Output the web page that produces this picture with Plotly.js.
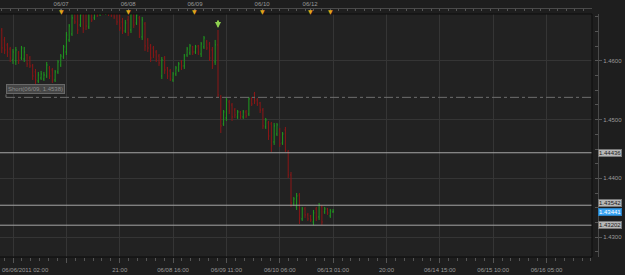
<!DOCTYPE html>
<html><head><meta charset="utf-8">
<script src="https://cdn.plot.ly/plotly-3.0.1.min.js"></script>
<style>html,body{margin:0;padding:0;background:#1e1e1e;overflow:hidden}#chart{width:625px;height:275px}</style>
</head><body><div id="chart"></div>
<script>
const open = [
1.46528,1.46358,1.46273,1.46204,1.46017,1.46000,1.46136,1.46051,1.46034,1.46102,
1.46051,1.45915,1.45813,1.45659,1.45710,1.45693,1.45744,1.45881,1.45847,1.45676,
1.45813,1.45932,1.46068,1.46153,1.46358,1.46460,1.46835,1.46801,1.46613,1.46835,
1.46869,1.46579,1.46869,1.46733,1.46954,1.46801,1.46988,1.46818,1.46954,1.46903,
1.46903,1.46869,1.46801,1.46664,1.46511,1.46699,1.46528,1.46801,1.46647,1.46733,
1.46409,1.46630,1.46358,1.46256,1.46221,1.46153,1.46085,1.45744,1.46051,1.45881,
1.45830,1.45676,1.45779,1.45847,1.45983,1.45915,1.46102,1.46136,1.46239,1.46153,
1.46256,1.46119,1.46239,1.46324,1.46290,1.46187,1.45983,1.46273,1.45387,1.44927,
1.45029,1.45302,1.45250,1.45165,1.45046,1.45131,1.45046,1.45131,1.45097,1.45353,
1.45438,1.45336,1.45284,1.45165,1.44876,1.44944,1.44927,1.44620,1.44756,1.44825,
1.44603,1.44825,1.44450,1.44058,1.43564,1.43513,1.43717,1.43309,1.43479,1.43377,
1.43360,1.43257,1.43479,1.43343,1.43513,1.43428,1.43479,1.43360,1.43428];
const high = [
1.46562,1.46409,1.46307,1.46239,1.46204,1.46239,1.46170,1.46256,1.46239,1.46119,
1.46085,1.45949,1.45864,1.45813,1.45830,1.45813,1.45983,1.45915,1.45881,1.45847,
1.46017,1.46119,1.46273,1.46494,1.46630,1.46835,1.46903,1.46869,1.46835,1.46903,
1.46937,1.46903,1.46937,1.46971,1.47005,1.47039,1.47039,1.47039,1.47005,1.46971,
1.46954,1.46903,1.46869,1.46733,1.46699,1.46767,1.46869,1.46869,1.46835,1.46767,
1.46750,1.46664,1.46392,1.46290,1.46256,1.46187,1.46119,1.46068,1.46085,1.45898,
1.45864,1.45813,1.45915,1.45983,1.46017,1.46119,1.46239,1.46290,1.46256,1.46273,
1.46273,1.46324,1.46426,1.46358,1.46324,1.46239,1.46358,1.46528,1.45421,1.45165,
1.45370,1.45336,1.45284,1.45199,1.45165,1.45148,1.45165,1.45165,1.45387,1.45387,
1.45472,1.45370,1.45302,1.45199,1.45029,1.44978,1.44961,1.44944,1.44944,1.44859,
1.44790,1.44876,1.44484,1.44109,1.43683,1.43751,1.43751,1.43513,1.43513,1.43411,
1.43377,1.43462,1.43513,1.43581,1.43547,1.43513,1.43496,1.43479,1.43479];
const low = [
1.46136,1.46119,1.46068,1.45983,1.45949,1.45932,1.45949,1.46017,1.45983,1.45898,
1.45881,1.45676,1.45608,1.45625,1.45676,1.45659,1.45710,1.45693,1.45625,1.45642,
1.45779,1.45898,1.46034,1.46102,1.46324,1.46426,1.46630,1.46460,1.46579,1.46477,
1.46528,1.46545,1.46664,1.46699,1.46750,1.46767,1.46784,1.46784,1.46767,1.46750,
1.46716,1.46613,1.46511,1.46460,1.46477,1.46426,1.46477,1.46562,1.46613,1.46392,
1.46358,1.46170,1.46153,1.45983,1.46051,1.45983,1.45915,1.45693,1.45779,1.45693,
1.45659,1.45642,1.45744,1.45813,1.45847,1.45864,1.46068,1.46102,1.46102,1.46119,
1.46102,1.46068,1.46204,1.46187,1.46000,1.45864,1.45932,1.45387,1.44773,1.44893,
1.44978,1.45097,1.44978,1.45029,1.45012,1.45012,1.45012,1.45029,1.45063,1.45233,
1.45267,1.45233,1.45114,1.44842,1.44842,1.44654,1.44450,1.44569,1.44722,1.44535,
1.44569,1.44450,1.44007,1.43513,1.43530,1.43462,1.43223,1.43274,1.43326,1.43274,
1.43257,1.43202,1.43274,1.43291,1.43206,1.43394,1.43377,1.43326,1.43411];
const close = [
1.46221,1.46187,1.46153,1.46051,1.46153,1.46187,1.46017,1.46221,1.46153,1.45949,
1.45915,1.45744,1.45676,1.45761,1.45779,1.45761,1.45932,1.45744,1.45676,1.45813,
1.45983,1.46085,1.46239,1.46443,1.46596,1.46733,1.46664,1.46528,1.46784,1.46562,
1.46596,1.46835,1.46699,1.46903,1.46784,1.46971,1.46818,1.46971,1.46801,1.46784,
1.46750,1.46664,1.46562,1.46511,1.46647,1.46477,1.46801,1.46613,1.46784,1.46443,
1.46699,1.46256,1.46221,1.46051,1.46102,1.46017,1.45966,1.46017,1.45847,1.45744,
1.45693,1.45779,1.45881,1.45949,1.45915,1.46085,1.46204,1.46256,1.46153,1.46239,
1.46153,1.46290,1.46392,1.46221,1.46051,1.45915,1.46273,1.45421,1.44893,1.45131,
1.45336,1.45148,1.45046,1.45080,1.45131,1.45063,1.45131,1.45063,1.45353,1.45267,
1.45319,1.45267,1.45165,1.44893,1.44995,1.44722,1.44552,1.44893,1.44910,1.44586,
1.44756,1.44484,1.44058,1.43581,1.43649,1.43700,1.43326,1.43479,1.43377,1.43309,
1.43291,1.43411,1.43326,1.43547,1.43257,1.43479,1.43411,1.43445,1.43441];

const xTickIdx = [4,23,42,61,80,99,118,137,156,175,194];
const xTickText = ['06/06/2011 02:00','','21:00','06/08 16:00','06/09 11:00','06/10 06:00','06/13 01:00','20:00','06/14 15:00','06/15 10:00','06/16 05:00'];
const topIdx = [21.1,45.0,68.8,92.7,109.8];
const topText = ['06/07','06/08','06/09','06/10','06/12'];
const markerIdx = [21.1,45.0,68.8,92.7,109.8,116.9];
const levelValues = [1.44436,1.43542,1.43202];
const lastPrice = 1.43441;
const shortLevel = 1.4538;
const shortText = 'Short(06/09, 1.4538)';
const signalIdx = 77;

const idx = open.map((_, i) => i);
const W = 625, H = 275;
const plotRight = 592 / W;
const yTop = 243 / 249;
const FONT = 'Liberation Sans, Arial, sans-serif';

// first bottom label is drawn left-aligned so it stays inside the picture
const axisTickText = xTickText.map((t, k) => k === 0 ? '' : t);

const traces = [
  {type:'ohlc', x: idx, open: open, high: high, low: low, close: close,
   increasing:{line:{color:'#1f9a1f', width:1}},
   decreasing:{line:{color:'#8c1616', width:1}},
   tickwidth:0.3, hoverinfo:'skip', xaxis:'x', yaxis:'y'},
  {type:'scatter', mode:'markers', x: idx, y: close, xaxis:'x2', yaxis:'y',
   marker:{opacity:0, size:1}, hoverinfo:'skip', showlegend:false}
];

const shapes = [];
levelValues.forEach(v => shapes.push({type:'line', xref:'paper', x0:0, x1:plotRight, yref:'y', y0:v, y1:v,
  line:{color:'#a6a6a6', width:1}}));
shapes.push({type:'line', xref:'paper', x0:6/W, x1:plotRight, yref:'y', y0:shortLevel, y1:shortLevel,
  line:{color:'#6e6e6e', width:1, dash:'dashdot'}});
shapes.push({type:'line', xref:'paper', x0:6/W, x1:6/W, yref:'y', y0:shortLevel, y1:shortLevel+0.0005,
  line:{color:'#6e6e6e', width:1}});
// plot border
shapes.push({type:'line', xref:'paper', x0:0, x1:plotRight, yref:'paper', y0:yTop, y1:yTop, line:{color:'#0c0c0c', width:1}});
shapes.push({type:'line', xref:'paper', x0:0, x1:plotRight, yref:'paper', y0:0, y1:0, line:{color:'#0c0c0c', width:1}});
shapes.push({type:'line', xref:'paper', x0:plotRight, x1:plotRight, yref:'paper', y0:0, y1:yTop, line:{color:'#0c0c0c', width:1}});

const annotations = [];
levelValues.forEach((v, k) => annotations.push({xref:'paper', x:598/W, xanchor:'left', yref:'y', y:v, yanchor:'middle',
  yshift: (v === 1.43542 ? 2 : 0),
  text:v.toFixed(5), showarrow:false, bgcolor:'#b8b8b8', bordercolor:'#777', borderwidth:1, borderpad:0,
  font:{family:FONT, size:6, color:'#1a1a1a'}}));
annotations.push({xref:'paper', x:598/W, xanchor:'left', yref:'y', y:lastPrice, yanchor:'middle', yshift:-1,
  text:lastPrice.toFixed(5), showarrow:false, bgcolor:'#3aa4f2', bordercolor:'#2a7fc0', borderwidth:1, borderpad:0,
  font:{family:FONT, size:6, color:'#ffffff'}});
annotations.push({xref:'paper', x:6/W, xanchor:'left', yref:'y', y:shortLevel, yanchor:'middle', yshift:8,
  text:shortText, showarrow:false, bgcolor:'#464646', bordercolor:'#686868', borderwidth:1, borderpad:1,
  font:{family:FONT, size:6, color:'#8a8a8a'}});
markerIdx.forEach(m => annotations.push({xref:'x', x:m, yref:'paper', y:(257-11)/249, yanchor:'middle',
  text:'▼', showarrow:false, font:{family:'DejaVu Sans', size:6, color:'#e0a418'}}));
annotations.push({xref:'x', x:signalIdx, yref:'y', y:high[signalIdx], text:'', showarrow:true,
  ax:0, ay:-11, arrowhead:2, arrowsize:0.6, arrowwidth:2, arrowcolor:'#8fd14f', standoff:2, startstandoff:0});
annotations.push({xref:'paper', x:0, xanchor:'left', yref:'paper', y:0, yanchor:'middle', yshift:-13,
  text:xTickText[0], showarrow:false, font:{family:FONT, size:6, color:'#9a9a9a'}});

const layout = {
  width:W, height:H,
  margin:{l:0, r:0, t:8, b:18, pad:0},
  paper_bgcolor:'#1e1e1e', plot_bgcolor:'#222222',
  showlegend:false, hovermode:false,
  font:{family:FONT, size:6, color:'#9a9a9a'},
  xaxis:{domain:[0, plotRight], range:[-0.64, 210.2], tickmode:'array', tickvals:xTickIdx, ticktext:axisTickText,
    showgrid:true, gridcolor:'#353535', gridwidth:1, zeroline:false, showline:false,
    ticks:'outside', ticklen:5, tickcolor:'#555', tickwidth:1, ticklabelstandoff:2,
    minor:{ticks:'outside', ticklen:3, tickcolor:'#555', tickmode:'linear', tick0:4, dtick:19/6, showgrid:false},
    tickfont:{family:FONT, size:6, color:'#9a9a9a'}, rangeslider:{visible:false}, fixedrange:true},
  xaxis2:{overlaying:'x', matches:'x', anchor:'free', position:1, side:'top', range:[-0.64, 210.2],
    tickmode:'array', tickvals:topIdx, ticktext:topText, showgrid:false, zeroline:false,
    showline:true, linecolor:'#4a4a4a', ticks:'inside', ticklen:4, tickcolor:'#666',
    minor:{ticks:'inside', ticklen:2, tickcolor:'#555', tickmode:'linear', tick0:0, dtick:3, showgrid:false},
    tickfont:{family:FONT, size:6, color:'#9a9a9a'}, fixedrange:true},
  yaxis:{domain:[0, yTop], range:[1.4266, 1.4680], side:'right', anchor:'free', position:598/W,
    tickmode:'linear', tick0:1.43, dtick:0.01, tickformat:'.4f',
    showgrid:true, gridcolor:'#353535', zeroline:false, showline:true, linecolor:'#4a4a4a',
    ticks:'outside', ticklen:3, tickcolor:'#555',
    minor:{ticks:'inside', ticklen:3, tickcolor:'#555', dtick:0.0025, showgrid:false},
    tickfont:{family:FONT, size:6, color:'#9a9a9a'}, fixedrange:true},
  shapes:shapes, annotations:annotations
};

Plotly.newPlot('chart', traces, layout, {displayModeBar:false, staticPlot:true});
</script></body></html>
